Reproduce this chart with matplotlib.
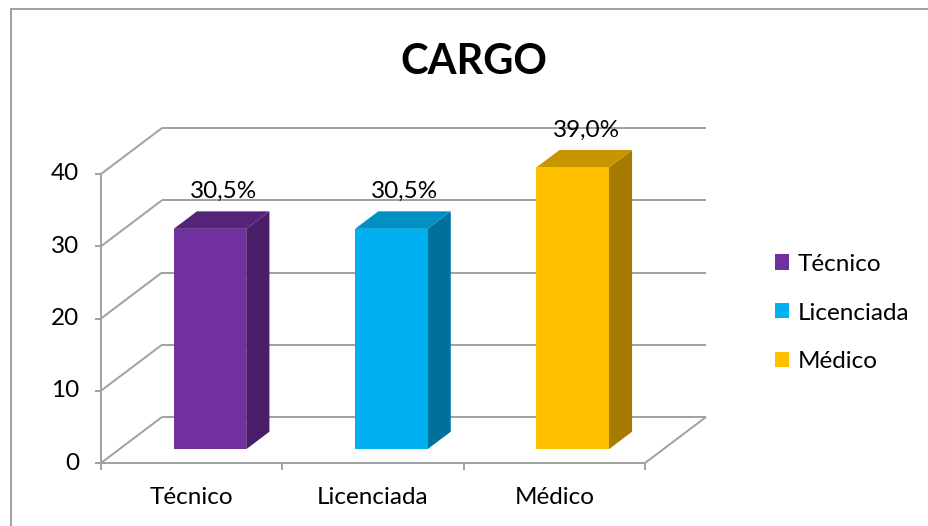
'''
CARGO - 3D style column chart
'''

import matplotlib
matplotlib.use("Agg")
import matplotlib.pyplot as plt
from matplotlib.patches import Polygon, Patch
import numpy as np

categories = ["Técnico", "Licenciada", "Médico"]
values = [30.5, 30.5, 39.0]
labels = ["30,5%", "30,5%", "39,0%"]
yticks = [0, 10, 20, 30, 40]

front_cols = ["#7030A0", "#00B0F0", "#FFC000"]
side_cols = ["#4A1D68", "#00719C", "#A67C00"]
top_cols = ["#55237A", "#0090C4", "#C79500"]
grid_col = "#A0A0A0"

plt.rcParams["font.family"] = ["Lato", "DejaVu Sans"]
FS = 17.5

fig = plt.figure(figsize=(9.29, 5.26), dpi=100)
ax = fig.add_axes([101/929, 63/526, 544/929, 289/526])
ax.set_xlim(-0.5, 2.5)
ax.set_ylim(0, 40)
ax.axis("off")

# depth vector (61 px right, 46 px up) converted to data units
o = ax.transData.transform((0, 0))
DX, DY = ax.transData.inverted().transform(o + np.array([61, 46]))


def pt(x, y, d):
    return (x + DX*d, y + DY*d)


def line(p, q, **kw):
    ax.plot([p[0], q[0]], [p[1], q[1]], color=grid_col, lw=1.4,
            clip_on=False, solid_capstyle="butt", **kw)


x0, x1 = -0.5, 2.5
# back wall gridlines and left wall diagonals
for t in yticks:
    line(pt(x0, t, 1), pt(x1, t, 1))
    line(pt(x0, t, 0), pt(x0, t, 1))
# floor
line(pt(x0, 0, 0), pt(x1, 0, 0))
line(pt(x1, 0, 0), pt(x1, 0, 1))
# front y axis
line(pt(x0, 0, 0), pt(x0, 40, 0))

# ticks
px = (x1 - x0) / 544
py = 40 / 289
for t in yticks:
    line((x0, t), (x0 - 6*px, t))
    ax.text(x0 - 22*px, t, str(t), ha="right", va="center", fontsize=FS)
for k in range(len(categories) + 1):
    line((x0 + k, 0), (x0 + k, -7*py))
for i, c in enumerate(categories):
    ax.text(i, -35*py, c, ha="center", va="center", fontsize=FS)

# bars
w = 0.2
d0, d1 = 0.3, 0.68
for i, v in enumerate(values):
    front = [pt(i-w, 0, d0), pt(i+w, 0, d0), pt(i+w, v, d0), pt(i-w, v, d0)]
    side = [pt(i+w, 0, d0), pt(i+w, 0, d1), pt(i+w, v, d1), pt(i+w, v, d0)]
    top = [pt(i-w, v, d0), pt(i+w, v, d0), pt(i+w, v, d1), pt(i-w, v, d1)]
    ax.add_patch(Polygon(side, closed=True, fc=side_cols[i], ec="none", clip_on=False, zorder=3))
    ax.add_patch(Polygon(top, closed=True, fc=top_cols[i], ec="none", clip_on=False, zorder=3))
    ax.add_patch(Polygon(front, closed=True, fc=front_cols[i], ec="none", clip_on=False, zorder=3))
    lx, ly = pt(i, v, 0.52)
    ax.text(lx, ly + 27*py, labels[i], ha="center", va="center", fontsize=FS, zorder=4)

fig.text(474/929, 1 - 62/526, "CARGO", ha="center", va="center",
         fontsize=30, fontweight="bold")

handles = [Patch(fc=c, ec="none") for c in front_cols]
fig.legend(handles, categories, loc="center left", bbox_to_anchor=(775/929, 1 - 313/526),
           frameon=False, fontsize=FS, handlelength=0.58, handleheight=0.58,
           handletextpad=0.35, labelspacing=1.15, borderpad=0, borderaxespad=0)

# chart frame
fig.add_artist(plt.Line2D([11/929, 11/929], [0, 1 - 9/526], color=grid_col, lw=1.4))
fig.add_artist(plt.Line2D([11/929, 1], [1 - 9/526, 1 - 9/526], color=grid_col, lw=1.4))

fig.savefig("out.png", dpi=100)
